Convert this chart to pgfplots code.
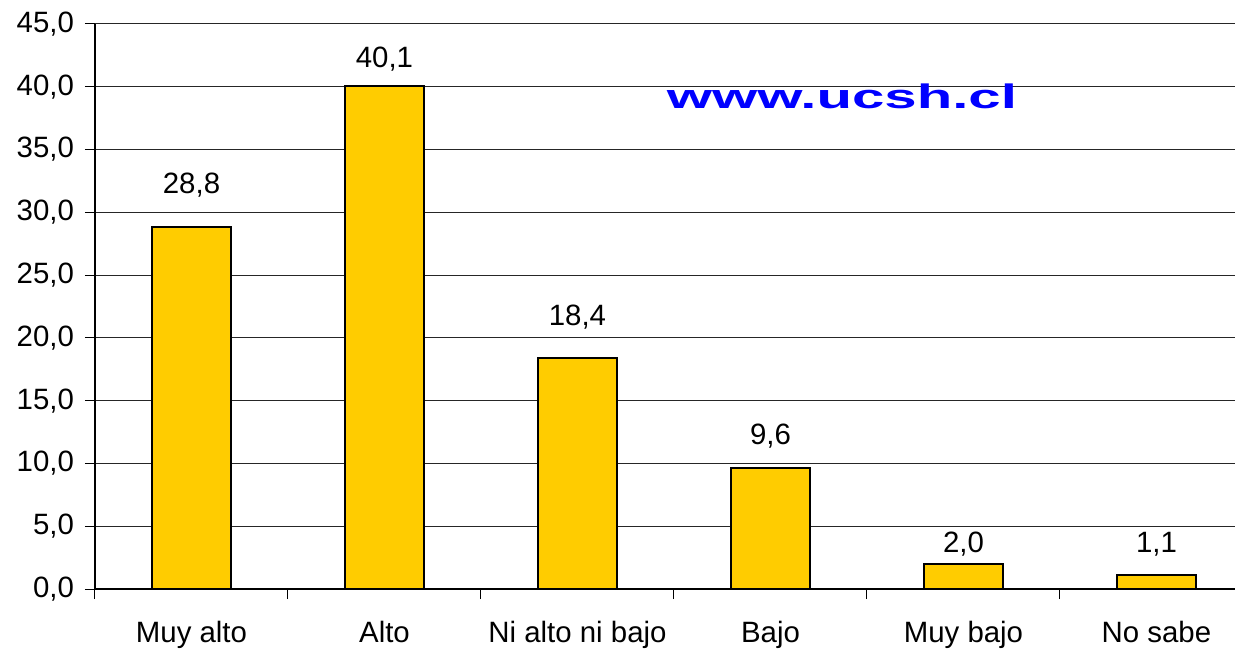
\documentclass[border=0pt]{standalone}
\usepackage{pgfplots}
\pgfplotsset{compat=1.18}
\usepackage{pgfplotstable}
\usepackage{graphicx}
\usepackage{fontspec}
\setmainfont{Liberation Sans}
\definecolor{baryel}{HTML}{FFCC00}
\pgfplotstableread{
x y off
0 28.8 21
1 40.1 13
2 18.4 20.5
3 9.6 16
4 2.0 10
5 1.1 15.5
}\datatab
\begin{document}
\begin{tikzpicture}
\begin{axis}[
  name=ax,
  scale only axis, width=570pt, height=282.5pt,
  xmin=-0.5, xmax=5.407, ymin=0, ymax=45,
  axis x line*=bottom, axis y line*=left,
  axis line style={black, line width=0.6pt},
  font=\fontsize{14.7}{17}\selectfont,
  ytick={0,5,...,45},
  ymajorgrids, grid style={black!85, line width=0.5pt},
  yticklabel style={xshift=-2pt, /pgf/number format/fixed, /pgf/number format/fixed zerofill, /pgf/number format/precision=1, /pgf/number format/use comma, /pgf/number format/assume math mode=true},
  xtick={0,...,5},
  xticklabels={Muy alto, Alto, Ni alto ni bajo, Bajo, Muy bajo, No sabe},
  minor xtick={-0.5,0.5,...,4.5},
  tick align=outside,
  major x tick style={draw=none},
  major tick length=5pt, minor tick length=5pt,
  tick style={black, line width=0.5pt},
  xticklabel style={yshift=-7.5pt},
  clip=false,
]
\addplot[ybar, bar width=0.41, bar shift=0pt, fill=baryel, draw=black, line width=1pt,
  visualization depends on={\thisrow{off}\as\off},
  nodes near coords={\pgfmathprintnumber[fixed,fixed zerofill,precision=1,use comma,assume math mode=true]{\pgfplotspointmeta}},
  nodes near coords style={anchor=center, yshift=\off pt, font=\fontsize{14.7}{17}\selectfont, text=black},
  point meta=y]
  table[x=x, y=y] {\datatab};
\node[text=blue, font=\bfseries\fontsize{17}{18}\selectfont, inner sep=0pt] at (axis cs:3.37,39.2) {\scalebox{1.71}[1]{www.ucsh.cl}};
\end{axis}
\pgfresetboundingbox
\path ([xshift=-47.5pt,yshift=-30.5pt]ax.south west) rectangle ([yshift=12pt]ax.north east);
\end{tikzpicture}
\end{document}
